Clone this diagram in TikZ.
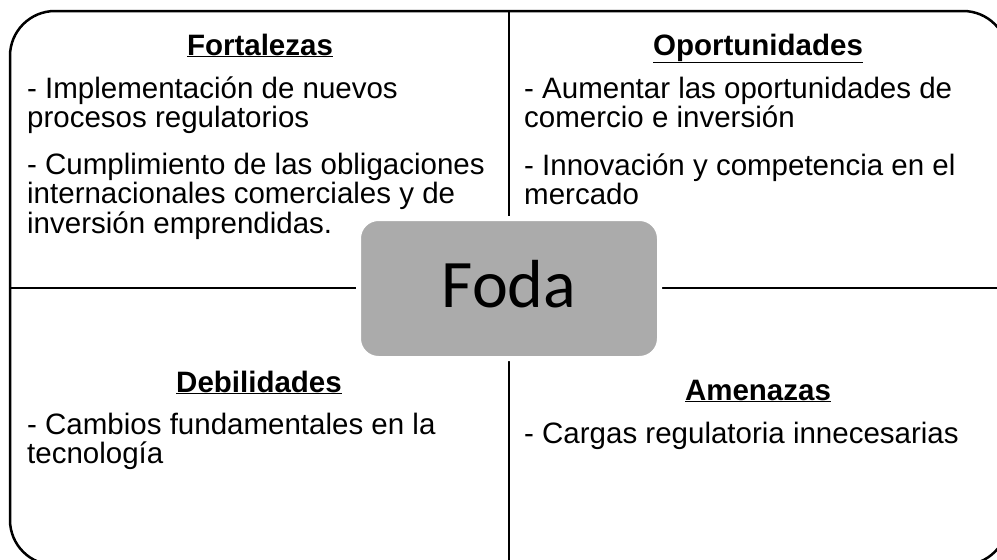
\documentclass[tikz,border=0pt]{standalone}
\usepackage{fontspec}
\setmainfont{Liberation Sans}
\newfontfamily\fodafont{Carlito}
\definecolor{fodagray}{HTML}{ABABAB}
\newcommand{\bodyfont}{\fontsize{29.5}{26.5}\selectfont}
\begin{document}
\begin{tikzpicture}[x=1pt,y=-1pt,
  frame/.style={line width=2.5pt, draw=black},
  head/.style={font=\bodyfont\bfseries, anchor=base, inner sep=0pt},
  body/.style={font=\bodyfont, anchor=base west, inner sep=0pt},
  fodabox/.style={fill=fodagray, draw=white, line width=5pt, rounded corners=20pt,
    minimum width=301pt, minimum height=140pt, font=\fodafont\fontsize{68}{80}\selectfont},
]
\useasboundingbox (0,0) rectangle (997,560);
\clip (0,0) rectangle (997,560);
\draw[frame, rounded corners=45pt] (10,11) rectangle (1008,565);
\coordinate (vt) at (509,11);
\coordinate (vb) at (509,565);
\coordinate (hl) at (10,288);
\coordinate (hr) at (1008,288);
\draw[frame] (vt) -- (vb);
\draw[frame] (hl) -- (hr);
\node[fodabox] (foda) at (509,288.5) {\raisebox{4pt}[\height][\depth]{Foda}};

\node[head] (fort) at (260,55) {\underline{Fortalezas}};
\node[body] (fortb) at (27,98) {\begin{tabular}[t]{@{}l@{}}
- Implementación de nuevos\\
procesos regulatorios\\[18pt]
- Cumplimiento de las obligaciones\\
internacionales comerciales y de\\
inversión emprendidas.
\end{tabular}};

\node[head] (opor) at (758,55) {\underline{Oportunidades}};
\node[body] (oporb) at (524,98) {\begin{tabular}[t]{@{}l@{}}
- Aumentar las oportunidades de\\
comercio e inversión\\[18pt]
- Innovación y competencia en el\\
mercado
\end{tabular}};

\node[head] (debi) at (259,392) {\underline{Debilidades}};
\node[body] (debib) at (27,434) {\begin{tabular}[t]{@{}l@{}}
- Cambios fundamentales en la\\
tecnología
\end{tabular}};

\node[head] (amen) at (758,400) {\underline{Amenazas}};
\node[body] (amenb) at (524,443) {- Cargas regulatoria innecesarias};
\end{tikzpicture}
\end{document}
